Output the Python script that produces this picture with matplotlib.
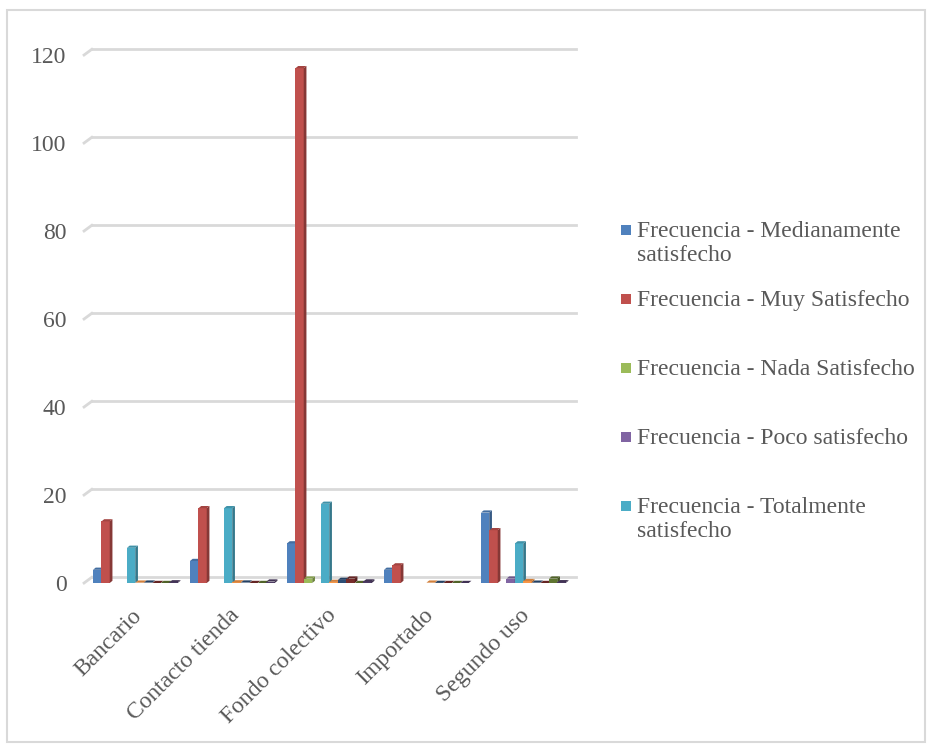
import numpy as np
import matplotlib.pyplot as plt
from matplotlib.patches import Polygon, Rectangle
import matplotlib.colors as mcolors

plt.rcParams['font.family'] = ['Liberation Serif', 'DejaVu Serif']

categorias = ['Bancario', 'Contacto tienda', 'Fondo colectivo', 'Importado', 'Segundo uso']

# frecuencias (nan = celda vacía en la tabla dinámica)
frec_medianamente = [3, 5, 9, 3, 16]
frec_muy = [14, 17, 117, 4, 12]
frec_nada = [np.nan, np.nan, 1, np.nan, np.nan]
frec_poco = [np.nan, np.nan, np.nan, np.nan, 1]
frec_totalmente = [8, 17, 18, np.nan, 9]

# porcentajes por columna
porc_medianamente = [0.08, 0.14, 0.25, 0.08, 0.44]
porc_muy = [0.09, 0.10, 0.71, 0.02, 0.07]
porc_nada = [0, 0, 1.0, 0, 0]
porc_poco = [0, 0, 0, 0, 1.0]
porc_totalmente = [0.15, 0.33, 0.35, 0, 0.17]

series = [frec_medianamente, frec_muy, frec_nada, frec_poco, frec_totalmente,
          porc_medianamente, porc_muy, porc_nada, porc_poco, porc_totalmente]
colores = ['#4F81BD', '#C0504D', '#9BBB59', '#8064A2', '#4BACC6',
           '#F79646', '#2C4D75', '#772C2A', '#5F7530', '#4D3B62']
etiquetas = ['Frecuencia - Medianamente\nsatisfecho',
             'Frecuencia - Muy Satisfecho',
             'Frecuencia - Nada Satisfecho',
             'Frecuencia - Poco satisfecho',
             'Frecuencia - Totalmente\nsatisfecho']

W, H = 930, 751
fig = plt.figure(figsize=(W / 100, H / 100), dpi=100)

# marco del gráfico
fig.patches.append(Rectangle((7 / W, 1 - 742 / H), 918 / W, 732 / H,
                             transform=fig.transFigure, fill=False,
                             edgecolor='#D9D9D9', lw=1.5))

x0, x1 = 86, 571
y0, y120 = 583, 55
ax = fig.add_axes([x0 / W, 1 - y0 / H, (x1 - x0) / W, (y0 - y120) / H])
ax.set_xlim(0, 5)
ax.set_ylim(0, 120)
for s in ax.spines.values():
    s.set_visible(False)

gris = '#D9D9D9'
for v in range(0, 121, 20):
    ax.plot([-0.02, 0.06], [v, v + 1.3], color=gris, lw=2, clip_on=False, zorder=1)
    ax.plot([0.06, 5.05], [v + 1.3, v + 1.3], color=gris, lw=2, clip_on=False, zorder=1)

ax.set_yticks(range(0, 121, 20))
ax.tick_params(axis='y', length=0, pad=14, labelsize=17, labelcolor='#595959')
ax.set_xticks([])

offset, paso, ancho, prof, dy = 0.072, 0.0876, 0.085, 0.028, 0.5


def oscurecer(c, f):
    r, g, b = mcolors.to_rgb(c)
    return (r * f, g * f, b * f)


# columnas con cara lateral y superior
for k, (vals, col) in enumerate(zip(series, colores)):
    for i, h in enumerate(vals):
        if np.isnan(h):
            continue
        x = i + offset + k * paso
        ax.add_patch(Rectangle((x, 0), ancho, h, facecolor=col, edgecolor='none', zorder=3 + k))
        ax.add_patch(Polygon([(x + ancho, 0), (x + ancho + prof, dy), (x + ancho + prof, h + dy),
                              (x + ancho, h)], closed=True, facecolor=oscurecer(col, 0.7),
                             edgecolor='none', zorder=3 + k))
        ax.add_patch(Polygon([(x, h), (x + prof, h + dy), (x + ancho + prof, h + dy),
                              (x + ancho, h)], closed=True, facecolor=oscurecer(col, 0.85),
                             edgecolor='none', zorder=3 + k, clip_on=False))

for i, cat in enumerate(categorias):
    ax.text(i + 0.47, -5, cat, rotation=45, ha='right', va='top', rotation_mode='anchor',
            fontsize=17, color='#595959')

# leyenda
centros = [230, 299, 368, 437, 506]
for lab, col, yc in zip(etiquetas, colores[:5], centros):
    fig.patches.append(Rectangle((621 / W, 1 - (yc + 5) / H), 10 / W, 10 / H,
                                 transform=fig.transFigure, facecolor=col, edgecolor='none'))
    fig.text(637 / W, 1 - (yc - 9) / H, lab, ha='left', va='top', fontsize=17,
             color='#595959', linespacing=1.2)

fig.savefig('out.png', dpi=100)
